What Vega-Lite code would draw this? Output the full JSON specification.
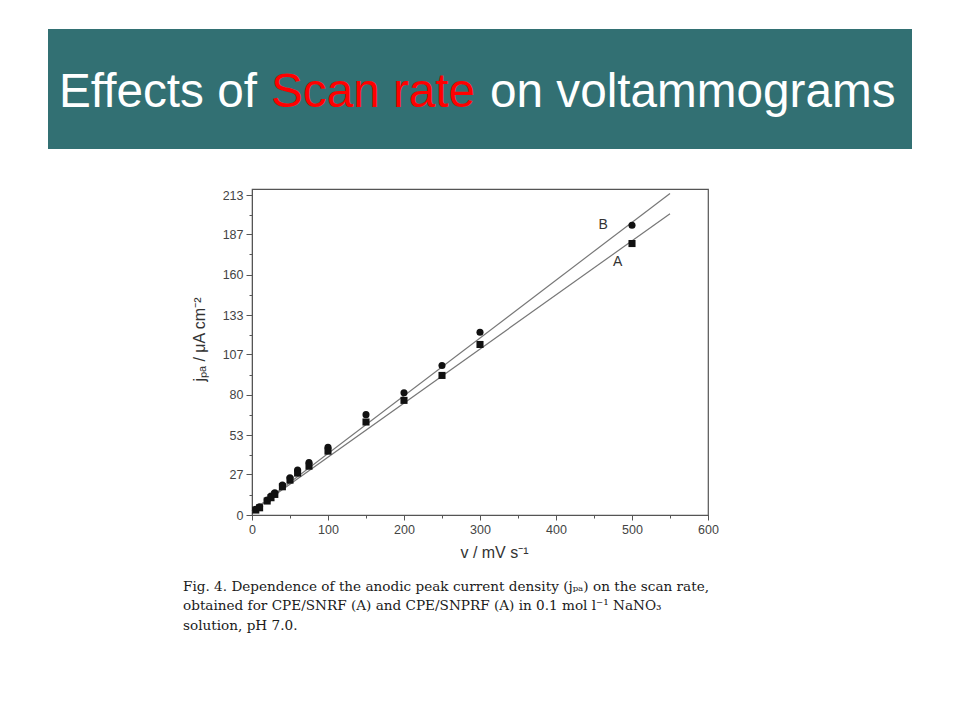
{
  "$schema": "https://vega.github.io/schema/vega-lite/v6.json",
  "background": "white",
  "padding": {"left": 48, "top": 29, "right": 0, "bottom": 0},
  "bounds": "flush",
  "center": true,
  "spacing": 40,
  "config": {
    "font": "Liberation Sans",
    "axis": {"domainColor": "#555", "tickColor": "#555", "labelColor": "#444", "titleColor": "#333", "labelFont": "Liberation Sans", "titleFont": "Liberation Sans", "titleFontWeight": "normal", "grid": false}
  },
  "vconcat": [
    {
      "width": 864,
      "height": 120,
      "view": {"fill": "#327073", "stroke": null},
      "data": {"values": [{"heading": "Effects of Scan rate on voltammograms"}]},
      "layer": [
        {"mark": {"type": "text", "text": "Effects of", "x": 11, "y": 78, "align": "left", "baseline": "alphabetic", "font": "Liberation Sans", "fontSize": 47.7, "color": "#ffffff"}},
        {"mark": {"type": "text", "text": "Scan rate", "x": 223, "y": 78, "align": "left", "baseline": "alphabetic", "font": "Liberation Sans", "fontSize": 47.7, "color": "#ff0000"}},
        {"mark": {"type": "text", "text": "on voltammograms", "x": 442, "y": 78, "align": "left", "baseline": "alphabetic", "font": "Liberation Sans", "fontSize": 47.7, "color": "#ffffff"}}
      ]
    },
    {
      "width": 456,
      "height": 326,
      "view": {"stroke": "#555", "strokeWidth": 1.2},
      "title": {
        "text": [
          "Fig. 4. Dependence of the anodic peak current density (jₚₐ) on the scan rate,",
          "obtained for CPE/SNRF (A) and CPE/SNPRF (A) in 0.1 mol l⁻¹ NaNO₃",
          "solution, pH 7.0."
        ],
        "orient": "bottom",
        "anchor": "start",
        "frame": "group",
        "dx": -69,
        "offset": 19,
        "font": "DejaVu Serif",
        "fontSize": 13.6,
        "fontWeight": "normal",
        "color": "#1a1a1a",
        "lineHeight": 19.5
      },
      "encoding": {
        "x": {
          "field": "v", "type": "quantitative",
          "scale": {"domain": [0, 600], "nice": false, "zero": false},
          "axis": {
            "title": "v / mV s⁻¹",
            "titleFontSize": 16,
            "titlePadding": 9,
            "titleX": 242,
            "values": [0, 50, 100, 150, 200, 250, 300, 350, 400, 450, 500, 550, 600],
            "labelExpr": "datum.value % 100 == 0 ? datum.label : ''",
            "labelFontSize": 12.5,
            "labelPadding": 3,
            "tickSize": {"condition": {"test": "datum.value % 100 != 0", "value": 3}, "value": 5},
            "labelFlush": false,
            "labelOverlap": false
          }
        },
        "y": {
          "field": "j", "type": "quantitative",
          "scale": {"domain": [0, 217], "nice": false, "zero": false},
          "axis": {
            "title": "jₚₐ / μA cm⁻²",
            "titleFontSize": 16,
            "titlePadding": 15,
            "titleY": 150,
            "values": [0, 13.5, 27, 40, 53, 66.5, 80, 93.5, 107, 120, 133, 146.5, 160, 173.5, 187, 200, 213],
            "labelExpr": "indexof([0, 27, 53, 80, 107, 133, 160, 187, 213], datum.value) >= 0 ? datum.label : ''",
            "labelFontSize": 12.5,
            "labelPadding": 3,
            "tickSize": {"condition": {"test": "indexof([0, 27, 53, 80, 107, 133, 160, 187, 213], datum.value) < 0", "value": 3}, "value": 6},
            "labelFlush": false,
            "labelOverlap": false
          }
        }
      },
      "layer": [
        {
          "data": {"values": [
            {"series": "B", "v": 0, "j": 2.5},
            {"series": "B", "v": 550, "j": 214},
            {"series": "A", "v": 0, "j": 2.5},
            {"series": "A", "v": 550, "j": 200.5}
          ]},
          "mark": {"type": "line", "color": "#777", "strokeWidth": 1.2},
          "encoding": {"detail": {"field": "series"}}
        },
        {
          "data": {"values": [
            {"series": "B", "v": 5, "j": 3.8},
            {"series": "B", "v": 10, "j": 5.5},
            {"series": "B", "v": 20, "j": 10},
            {"series": "B", "v": 25, "j": 12.6},
            {"series": "B", "v": 30, "j": 14.8},
            {"series": "B", "v": 40, "j": 19.9},
            {"series": "B", "v": 50, "j": 24.8},
            {"series": "B", "v": 60, "j": 29.9},
            {"series": "B", "v": 75, "j": 35},
            {"series": "B", "v": 100, "j": 45},
            {"series": "B", "v": 150, "j": 66.8},
            {"series": "B", "v": 200, "j": 81.4},
            {"series": "B", "v": 250, "j": 99.5},
            {"series": "B", "v": 300, "j": 121.6},
            {"series": "B", "v": 500, "j": 192.9},
            {"series": "A", "v": 5, "j": 3.3},
            {"series": "A", "v": 10, "j": 4.8},
            {"series": "A", "v": 20, "j": 9.3},
            {"series": "A", "v": 25, "j": 11.5},
            {"series": "A", "v": 30, "j": 13.7},
            {"series": "A", "v": 40, "j": 18.8},
            {"series": "A", "v": 50, "j": 23.2},
            {"series": "A", "v": 60, "j": 27.9},
            {"series": "A", "v": 75, "j": 32.5},
            {"series": "A", "v": 100, "j": 42.5},
            {"series": "A", "v": 150, "j": 61.9},
            {"series": "A", "v": 200, "j": 76.3},
            {"series": "A", "v": 250, "j": 92.9},
            {"series": "A", "v": 300, "j": 113.5},
            {"series": "A", "v": 500, "j": 180.7}
          ]},
          "mark": {"type": "point", "filled": true, "color": "#111", "opacity": 1, "size": 50},
          "encoding": {
            "shape": {"field": "series", "type": "nominal", "scale": {"domain": ["A", "B"], "range": ["square", "circle"]}, "legend": null}
          }
        },
        {
          "data": {"values": [
            {"label": "B", "v": 462, "j": 193},
            {"label": "A", "v": 481, "j": 168.5}
          ]},
          "mark": {"type": "text", "font": "Liberation Sans", "fontSize": 14, "color": "#333"},
          "encoding": {"text": {"field": "label"}}
        }
      ]
    }
  ]
}
